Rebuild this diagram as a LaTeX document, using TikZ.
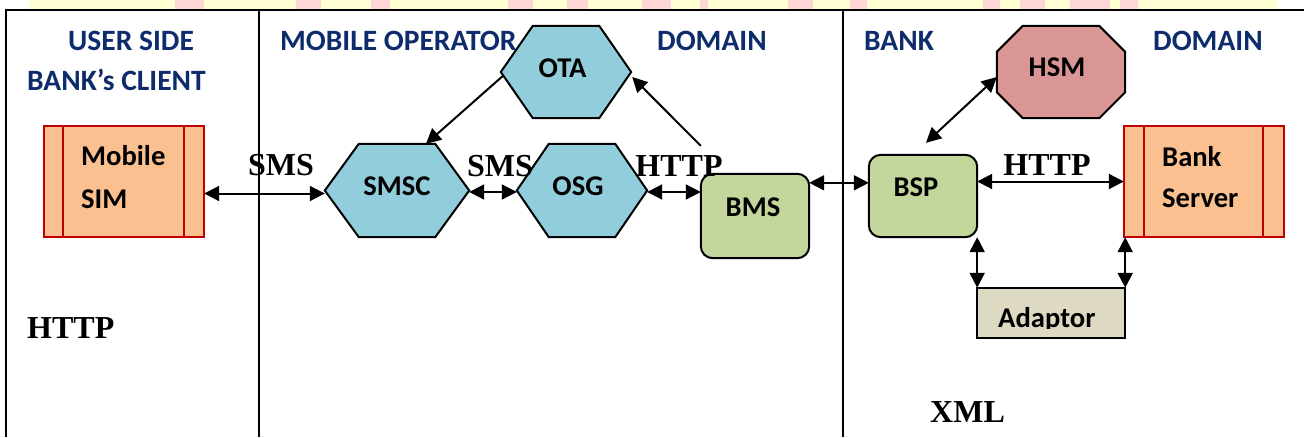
\documentclass[tikz,border=0pt]{standalone}
\usepackage{fontspec}
\setmainfont{Liberation Serif}
\newfontfamily\calfont{Carlito}
\usetikzlibrary{arrows.meta,backgrounds}

\definecolor{headblue}{HTML}{0E2C6C}
\definecolor{aqua}{HTML}{92CDDC}
\definecolor{leaf}{HTML}{C3D69B}
\definecolor{rose}{HTML}{D99694}
\definecolor{peach}{HTML}{FAC090}
\definecolor{brick}{HTML}{C00000}
\definecolor{sand}{HTML}{DDD9C3}
\definecolor{paleyellow}{HTML}{FFFDD2}
\definecolor{palepink}{HTML}{FFD6D6}

\begin{document}
\begin{tikzpicture}[x=1pt, y=-1pt,
  hdr/.style={font=\calfont\bfseries\fontsize{29.5}{31}\selectfont, text=headblue, anchor=west, inner sep=0pt},
  txt/.style={font=\calfont\bfseries\fontsize{28.6}{30}\selectfont, inner sep=0pt},
  proto/.style={font=\bfseries\fontsize{32}{34}\selectfont, inner sep=0pt},
  link/.style={line width=2pt, {Triangle[length=15pt,width=15pt]}-{Triangle[length=15pt,width=15pt]}},
  oneway/.style={line width=2pt, -{Triangle[length=15pt,width=15pt]}},
  frame/.style={line width=2.5pt},
  slot/.style={draw=none, inner sep=0pt},
  outline/.style={line width=2pt, draw=black},
  cardbox/.style={line width=2.5pt, draw=brick, fill=peach},
  hexoutline/.style args={#1/#2}{insert path={(#1.west) -- ([xshift=#2]#1.north west) -- ([xshift=-#2]#1.north east) -- (#1.east) -- ([xshift=-#2]#1.south east) -- ([xshift=#2]#1.south west) -- cycle}},
  octoutline/.style args={#1/#2}{insert path={([xshift=#2]#1.north west) -- ([xshift=-#2]#1.north east) -- ([yshift=-#2]#1.north east) -- ([yshift=#2]#1.south east) -- ([xshift=-#2]#1.south east) -- ([xshift=#2]#1.south west) -- ([yshift=#2]#1.south west) -- ([yshift=-#2]#1.north west) -- cycle}}
]
\useasboundingbox (0,0) rectangle (1304,437);

% faded band along the top edge
\fill[paleyellow] (29,0) rectangle (1277,8.5);
\foreach \a/\b in {175/204,296/321,371/390,508/533,567/588,642/671,700/708,788/813,850/867,983/1000,1020/1045,1070/1110,1120/1138}
  \fill[palepink] (\a,0) rectangle (\b,8.5);

% frame of the three domains
\coordinate (tl) at (6,10);
\coordinate (tr) at (1304,10);
\coordinate (bl) at (6,437);
\coordinate (d1) at (259,10);
\coordinate (d2) at (843,10);
\draw[frame] (bl) -- (tl) -- (tr);
\draw[frame] (d1) -- (d1 |- bl);
\draw[frame] (d2) -- (d2 |- bl);

% domain headings
\node[hdr] (h1) at (68,40.5) {USER SIDE};
\node[hdr] (h2) at (27,80) {BANK’s CLIENT};
\node[hdr] (h3) at (280,40.5) {MOBILE OPERATOR};
\node[hdr] (h4) at (657,40.5) {DOMAIN};
\node[hdr] (h5) at (864,40.5) {BANK};
\node[hdr] (h6) at (1153,40.5) {DOMAIN};

% component slots
\node[slot, minimum width=160pt, minimum height=111pt] (sim) at (124,181.5) {};
\node[slot, minimum width=144pt, minimum height=93pt] (smsc) at (397,190.5) {};
\node[slot, minimum width=130pt, minimum height=93pt] (osg) at (582,190.5) {};
\node[slot, minimum width=130pt, minimum height=92pt] (ota) at (566,72) {};
\node[slot, minimum width=108pt, minimum height=84pt] (bms) at (755,216) {};
\node[slot, minimum width=108pt, minimum height=82pt] (bsp) at (923,196) {};
\node[slot, minimum width=128pt, minimum height=92pt] (hsm) at (1061,72) {};
\node[slot, minimum width=160pt, minimum height=111pt] (bank) at (1204,181.5) {};
\node[slot, minimum width=148pt, minimum height=50pt] (adaptor) at (1051,313) {};

% component shapes
\begin{scope}[on background layer]
  \filldraw[cardbox] (sim.north west) rectangle (sim.south east);
  \draw[cardbox] ([xshift=19pt]sim.north west) -- ([xshift=19pt]sim.south west)
                 ([xshift=-20pt]sim.north east) -- ([xshift=-20pt]sim.south east);
  \filldraw[cardbox] (bank.north west) rectangle (bank.south east);
  \draw[cardbox] ([xshift=20pt]bank.north west) -- ([xshift=20pt]bank.south west)
                 ([xshift=-21pt]bank.north east) -- ([xshift=-21pt]bank.south east);
  \filldraw[outline, fill=aqua] [hexoutline=smsc/34pt];
  \filldraw[outline, fill=aqua] [hexoutline=osg/32pt];
  \filldraw[outline, fill=aqua] [hexoutline=ota/32pt];
  \filldraw[outline, fill=rose] [octoutline=hsm/26pt];
  \filldraw[outline, fill=leaf, rounded corners=12pt] (bms.north west) rectangle (bms.south east);
  \filldraw[outline, fill=leaf, rounded corners=12pt] (bsp.north west) rectangle (bsp.south east);
  \filldraw[outline, fill=sand] (adaptor.north west) rectangle (adaptor.south east);
\end{scope}

% component names
\node[txt, anchor=base west] (simtop) at (81,165) {Mobile};
\node[txt, anchor=base west] (simbot) at (81,208) {SIM};
\node[txt] (smsctext) at (397,186.5) {SMSC};
\node[txt] (osgtext) at (578,186) {OSG};
\node[txt] (otatext) at (562.5,68) {OTA};
\node[txt] (bmstext) at (753,207.5) {BMS};
\node[txt] (bsptext) at (916,187.5) {BSP};
\node[txt] (hsmtext) at (1057,67) {HSM};
\node[txt, anchor=base west] (banktop) at (1162,166) {Bank};
\node[txt, anchor=base west] (bankbot) at (1162,207) {Server};
\begin{scope}
  \clip (adaptor.north west) rectangle ([yshift=10pt]adaptor.south east);
  \node[txt, anchor=base west] (adaptortext) at (998,327) {Adaptor};
\end{scope}

% connectors
\coordinate (simR) at ([yshift=-12pt]sim.east);
\draw[link] (simR) -- (simR -| smsc.west);
\draw[link] ([yshift=-1.5pt]smsc.east) -- ([yshift=-1.5pt]osg.west);
\draw[link] ([yshift=-1.5pt]osg.east) -- ([yshift=-1.5pt]osg.east -| bms.west);
\coordinate (bmsR) at ([yshift=-9pt]bms.north east);
\draw[link] (bmsR) -- (bmsR -| bsp.west);
\draw[link] (bank.west -| bsp.east) -- (bank.west);
\draw[link] (bsp.south east) -- (bsp.south east |- adaptor.north);
\draw[link] (adaptor.north east) -- (adaptor.north east |- bank.south);
\draw[link] ([shift={(3pt,12pt)}]bsp.north) -- ([yshift=-5pt]hsm.west);
\draw[oneway] ([shift={(2pt,-4pt)}]ota.west) -- ([xshift=29pt]smsc.north);
\coordinate (bmsUp) at ([yshift=28pt]bms.north west);
\draw[oneway] (bmsUp) -- ([shift={(1pt,-5pt)}]ota.east);

% protocol labels
\node[proto] (p1) at (281,164.7) {SMS};
\node[proto] (p2) at (500,166) {SMS};
\node[proto] (p3) at (679,166) {HTTP};
\node[proto] (p4) at (1047,165) {HTTP};
\node[proto, anchor=west] (p5) at (27,328) {HTTP};
\node[proto, anchor=west] (p6) at (930,412) {XML};
\end{tikzpicture}
\end{document}
